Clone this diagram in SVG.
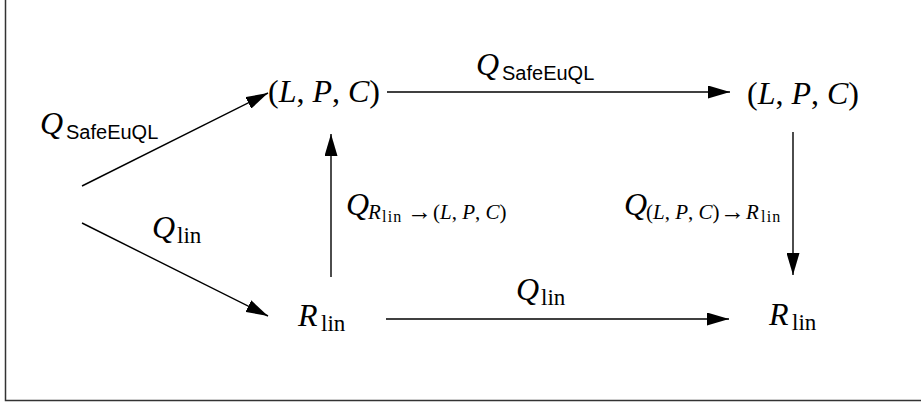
<svg xmlns="http://www.w3.org/2000/svg" width="921" height="402" viewBox="0 0 921 402">
<style>
.m{font-family:"Liberation Serif","DejaVu Serif",serif;fill:#000}
.i{font-style:italic}
.s{font-family:"Liberation Sans","DejaVu Sans",sans-serif}
.ss{font-size:16px;letter-spacing:1.2px}
.ar{font-size:25px}
.edge{stroke:#000;stroke-width:1.4;fill:none;marker-end:url(#ah)}
</style>
<defs>
<marker id="ah" markerUnits="userSpaceOnUse" markerWidth="23" markerHeight="13" refX="22" refY="6.5" orient="auto">
<path d="M0,0 L22,6.5 L0,13 Z" fill="#000"/>
</marker>
</defs>
<rect x="5.5" y="-10" width="930" height="410.5" fill="none" stroke="#333" stroke-width="1.5"/>
<g id="connectors">
<line class="edge" x1="82" y1="186" x2="268" y2="93"/>
<line class="edge" x1="82" y1="223" x2="268" y2="316"/>
<line class="edge" x1="331" y1="277" x2="331" y2="134"/>
<line class="edge" x1="387" y1="92" x2="730" y2="92"/>
<line class="edge" x1="793" y1="132" x2="793" y2="275"/>
<line class="edge" x1="386" y1="319" x2="729" y2="319"/>
</g>
<g id="node-lpc-left">
<text class="m" x="268" y="102" font-size="32">(<tspan class="i">L</tspan>, <tspan class="i">P</tspan>, <tspan class="i">C</tspan>)</text>
</g>
<g id="node-lpc-right">
<text class="m" x="747" y="104" font-size="32">(<tspan class="i">L</tspan>, <tspan class="i">P</tspan>, <tspan class="i">C</tspan>)</text>
</g>
<g id="node-rlin-left">
<text class="m" font-size="32"><tspan class="i" x="298" y="326">R</tspan><tspan x="321" y="331" font-size="23">lin</tspan></text>
</g>
<g id="node-rlin-right">
<text class="m" font-size="32"><tspan class="i" x="769" y="325">R</tspan><tspan x="792" y="330" font-size="23">lin</tspan></text>
</g>
<g id="labels">
<text class="m" font-size="32"><tspan class="i" x="40" y="134">Q</tspan><tspan class="s" x="66" y="139" font-size="20">SafeEuQL</tspan></text>
<text class="m" font-size="32"><tspan class="i" x="476" y="75">Q</tspan><tspan class="s" x="502" y="80" font-size="20">SafeEuQL</tspan></text>
<text class="m" font-size="32"><tspan class="i" x="152" y="238">Q</tspan><tspan x="177" y="243" font-size="23">lin</tspan></text>
<text class="m" font-size="32"><tspan class="i" x="516" y="300">Q</tspan><tspan x="541" y="305" font-size="23">lin</tspan></text>
<text class="m" font-size="32"><tspan class="i" x="346" y="215">Q</tspan><tspan class="i" x="368" y="219" font-size="21">R</tspan><tspan class="ss" x="382" y="222">lin</tspan><tspan class="ar" x="407" y="220">→</tspan><tspan x="433" y="219" font-size="21">(<tspan class="i">L</tspan>, <tspan class="i">P</tspan>, <tspan class="i">C</tspan>)</tspan></text>
<text class="m" font-size="32"><tspan class="i" x="624" y="215">Q</tspan><tspan x="646" y="219" font-size="21">(<tspan class="i">L</tspan>, <tspan class="i">P</tspan>, <tspan class="i">C</tspan>)</tspan><tspan class="ar" x="720" y="220">→</tspan><tspan class="i" x="746" y="219" font-size="21">R</tspan><tspan class="ss" x="761" y="222">lin</tspan></text>
</g>
</svg>
